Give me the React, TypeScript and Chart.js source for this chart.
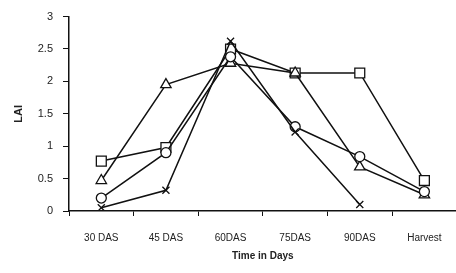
import React, { useEffect, useRef } from "react";
import { Chart, registerables } from "chart.js";

Chart.register(...registerables);

const categories = ["30 DAS", "45 DAS", "60DAS", "75DAS", "90DAS", "Harvest"];
const squareSeries = [0.77, 0.98, 2.5, 2.13, 2.13, 0.47];
const triangleSeries = [0.47, 1.95, 2.28, 2.13, 0.68, 0.25];
const circleSeries = [0.2, 0.9, 2.38, 1.3, 0.84, 0.3];
const crossSeries = [0.05, 0.32, 2.62, 1.22, 0.1, null];
const yTicks = [0, 0.5, 1, 1.5, 2, 2.5, 3];

const FONT = "'Liberation Sans', Arial, sans-serif";

export default function App() {
  const ref = useRef<HTMLCanvasElement | null>(null);
  useEffect(() => {
    if (!ref.current) return;
    const mk = (data: (number | null)[], style: any, r: number) => ({
      data,
      borderColor: "#111",
      borderWidth: 1.5,
      pointStyle: style,
      pointRadius: r,
      pointBorderColor: "#111",
      pointBackgroundColor: "#fff",
      pointBorderWidth: 1.3,
      tension: 0,
      spanGaps: false,
    });
    const chart = new Chart(ref.current, {
      type: "line",
      data: {
        labels: categories,
        datasets: [
          mk(crossSeries, "crossRot", 5),
          mk(circleSeries, "circle", 5),
          mk(triangleSeries, "triangle", 6),
          mk(squareSeries, "rect", 7),
        ],
      },
      options: {
        responsive: false,
        animation: false,
        layout: { padding: { top: 12, left: 0, right: 0, bottom: 0 } },
        plugins: { legend: { display: false }, tooltip: { enabled: false } },
        scales: {
          x: {
            type: "category",
            offset: true,
            grid: { offset: true, drawOnChartArea: false, drawTicks: true, tickLength: 5, color: "#111" },
            border: { color: "#111", width: 1.5 },
            ticks: { color: "#222", font: { family: FONT, size: 10 }, maxRotation: 0, autoSkip: false, padding: 16 },
            title: { display: true, text: "Time in Days", color: "#222", font: { family: FONT, size: 10, weight: "bold" }, padding: { top: 0, bottom: 11 } },
            afterFit: (s: any) => { s.height = 62; },
          },
          y: {
            min: 0,
            max: 3,
            afterBuildTicks: (s: any) => { s.ticks = yTicks.map((v) => ({ value: v })); },
            grid: { drawOnChartArea: false, drawTicks: true, tickLength: 6, color: "#111" },
            border: { color: "#111", width: 1.5 },
            ticks: { color: "#222", font: { family: FONT, size: 11 }, padding: 10, callback: (v: any) => String(v) },
            title: { display: true, text: "LAI", color: "#222", font: { family: FONT, size: 11, weight: "bold" }, padding: { top: 12, bottom: 0 } },
            afterFit: (s: any) => { s.width = 69; },
          },
        },
      },
    });
    return () => chart.destroy();
  }, []);
  return (
    <div style={{ position: "fixed", left: 0, top: 0, width: 456, height: 273, overflow: "hidden", background: "#fff" }}>
      <canvas ref={ref} width={465} height={273} style={{ display: "block" }} />
    </div>
  );
}
